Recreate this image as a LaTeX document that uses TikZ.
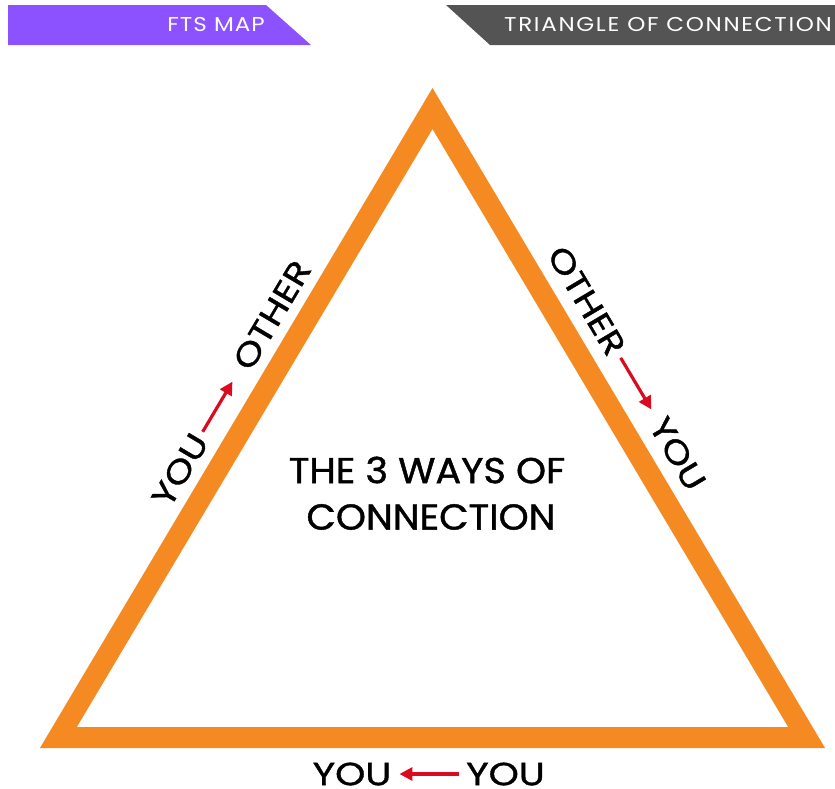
\documentclass[tikz,border=0pt]{standalone}
\usepackage{fontspec}
\setmainfont{Poppins}
\newfontfamily\lblfont{Poppins}[FakeStretch=1.2, FakeBold=1.2]
\newfontfamily\titlefont{Poppins}[FakeStretch=1.06, FakeBold=1.2]
\newfontfamily\headfontA{Poppins}[FakeStretch=1.15, LetterSpace=5]
\newfontfamily\headfontB{Poppins}[FakeStretch=1.15, LetterSpace=8.5]
\usetikzlibrary{arrows.meta}
\definecolor{fpurple}{HTML}{8C52FF}
\definecolor{fgray}{HTML}{545454}
\definecolor{forange}{HTML}{F68A22}
\definecolor{fred}{HTML}{DC0A1E}
\begin{document}
\begin{tikzpicture}[x=1pt,y=-1pt,
  lbl/.style={font=\lblfont\fontsize{32}{32}\selectfont, inner sep=0pt, anchor=center},
  title/.style={font=\titlefont\fontsize{36}{36}\selectfont, inner sep=0pt, anchor=center},
  head/.style={text=white, inner sep=0pt, anchor=center},
  redarrow/.style={draw=fred, line width=3.2pt, -{Triangle[length=13pt,width=13pt]}},
  edge/.style={draw=forange, line width=21pt, line join=miter}]
\useasboundingbox (0,0) rectangle (835,788);
% header banners
\fill[fpurple] (8,5) -- (266,5) -- (311,45) -- (8,45) -- cycle;
\fill[fgray] (446,5) -- (835,5) -- (835,45) -- (490,45) -- cycle;
\node[head, font=\headfontA\fontsize{20}{20}\selectfont] (fts) at (216,25) {FTS MAP};
\node[head, font=\headfontB\fontsize{20}{20}\selectfont] (toc) at (668,25) {TRIANGLE OF CONNECTION};
% triangle
\coordinate (A) at (432.5,108.5);
\coordinate (BL) at (58.4,737.5);
\coordinate (BR) at (806.6,737.5);
\draw[edge] (A) -- (BL) -- (BR) -- cycle;
% title
\node[title] (t1) at (427,470) {THE 3 WAYS OF};
\node[title] (t2) at (431,517) {CONNECTION};
% left side
\node[lbl, rotate=59.26] (lyou) at (180,470) {YOU};
\node[lbl, rotate=59.26] (lother) at (272,315) {OTHER};
\draw[redarrow, shorten <=5pt, shorten >=17pt] (lyou) -- (lother);
% right side
\node[lbl, rotate=-59.26] (rother) at (586.7,300.7) {OTHER};
\node[lbl, rotate=-59.26] (ryou) at (677.7,453.7) {YOU};
\draw[redarrow, shorten <=6pt, shorten >=12pt] (rother) -- (ryou);
% bottom
\node[lbl] (byouR) at (505.5,774) {YOU};
\node[lbl] (byouL) at (352,774) {YOU};
\draw[redarrow, shorten <=7.5pt, shorten >=8pt] (byouR) -- (byouL);
\end{tikzpicture}
\end{document}
